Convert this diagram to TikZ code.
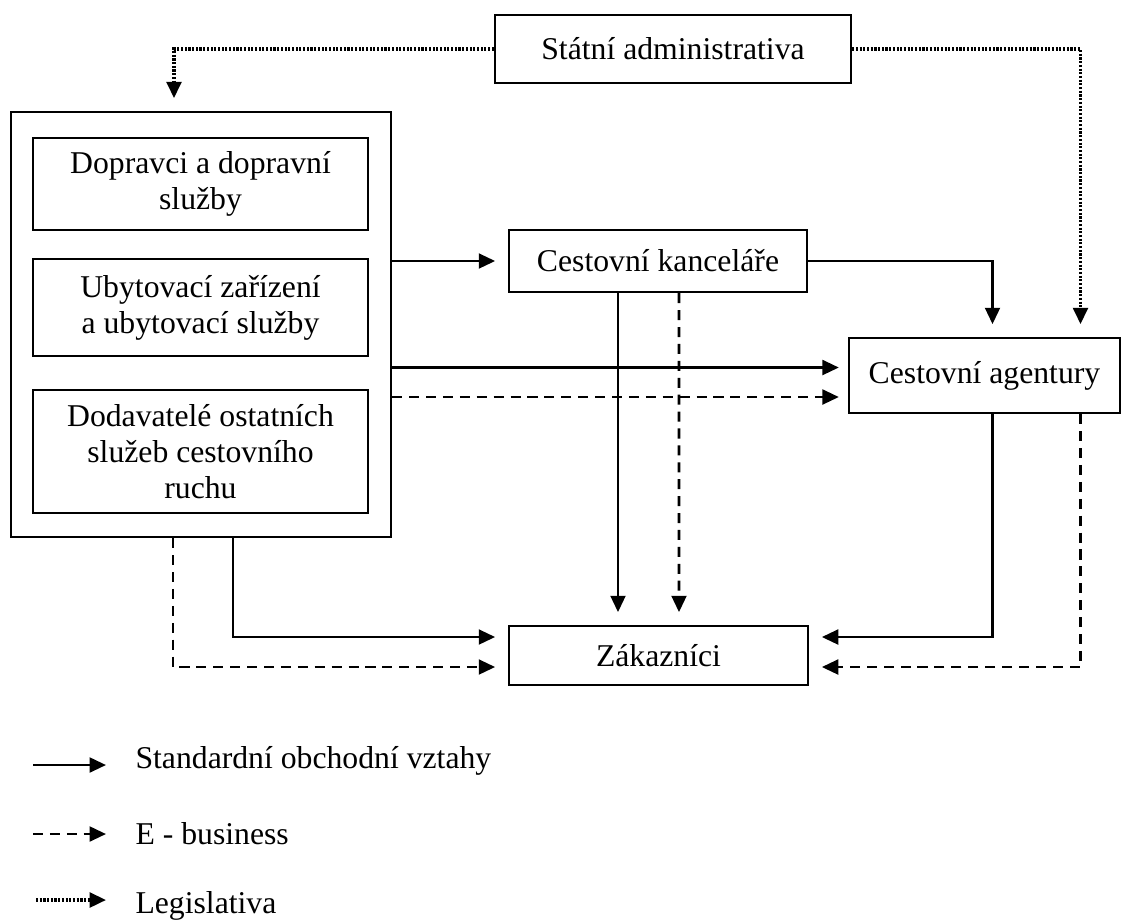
\documentclass[tikz,border=0pt]{standalone}
\usepackage{fontspec}
\setmainfont{Liberation Serif}
\usetikzlibrary{calc}
\usetikzlibrary{arrows.meta}
\newcommand{\pxu}{0.3785pt}
\tikzset{
    box/.style={draw, line width=0.9pt, align=center, inner sep=0pt, font=\fontsize{12}{13.6}\selectfont},
    std/.style={line width=1pt, -{Triangle[length=6.2pt,width=5.6pt]}},
    ebiz/.style={std, dash pattern=on 3.8pt off 2.6pt},
    legis/.style={std, line width=1.2pt, dash pattern=on 0.8pt off 0.6pt},
    tipgap/.style={shorten >=4.8pt},
    legtext/.style={anchor=west, inner sep=0pt, font=\fontsize{12}{13.6}\selectfont}
}

\begin{document}
\begin{tikzpicture}[x=\pxu, y=-\pxu]
            \useasboundingbox (0,0) rectangle (1137,923);

            % Boxes
            \node[box, minimum width=356*\pxu, minimum height=68*\pxu] (sa) at (673,49) {Státní administrativa};
            \node[box, minimum width=380*\pxu, minimum height=425*\pxu] (outer) at (201,324.5) {};
            \node[box, minimum width=335*\pxu, minimum height=92*\pxu] (d1) at (200.5,184) {Dopravci a dopravní\\služby};
            \node[box, minimum width=335*\pxu, minimum height=97*\pxu] (d2) at (200.5,307.5) {Ubytovací zařízení\\a ubytovací služby};
            \node[box, minimum width=335*\pxu, minimum height=123*\pxu] (d3) at (200.5,451.5) {Dodavatelé ostatních\\služeb cestovního\\ruchu};
            \node[box, minimum width=298*\pxu, minimum height=62*\pxu] (ck) at (658,261) {Cestovní kanceláře};
            \node[box, minimum width=271*\pxu, minimum height=75*\pxu] (ca) at (984.5,375.5) {Cestovní agentury};
            \node[box, minimum width=299*\pxu, minimum height=59*\pxu] (zak) at (658.5,655.5) {Zákazníci};

            % Helper points
            \coordinate (oT) at ($(outer.north)+(-27,0)$);
            \coordinate (caT) at ($(ca.north)+(8,0)$);
            \coordinate (caL) at ($(ca.north)+(96,0)$);
            \coordinate (caS) at ($(ca.west)+(0,-8)$);
            \coordinate (caE) at ($(ca.west)+(0,21.5)$);
            \coordinate (zS) at ($(zak.west)+(0,-18.5)$);
            \coordinate (zE) at ($(zak.west)+(0,11.5)$);
            \coordinate (zSr) at ($(zak.east)+(0,-18.5)$);
            \coordinate (zEr) at ($(zak.east)+(0,11.5)$);

            % Legislativa
            \draw[legis, tipgap] (sa.west) -| (oT);
            \draw[legis, tipgap] (sa.east) -| (caL);

            % Standardni vztahy
            \draw[std, tipgap] (outer.east |- ck.west) -- (ck.west);
            \draw[std, tipgap] (ck.east) -| (caT);
            \draw[std, shorten >=3.4pt] (outer.east |- caS) -- (caS);
            \draw[std, tipgap] ($(ck.south)+(-40,0)$) -- ($(zak.north)+(-40.5,0)$);
            \draw[std, tipgap] ($(outer.south)+(32,0)$) |- (zS);
            \draw[std, tipgap] ($(ca.south)+(8,0)$) |- (zSr);

            % E - business
            \draw[ebiz, shorten >=3.4pt] (outer.east |- caE) -- (caE);
            \draw[ebiz, tipgap] ($(ck.south)+(21,0)$) -- ($(zak.north)+(20.5,0)$);
            \draw[ebiz, tipgap] ($(outer.south)+(-28,0)$) |- (zE);
            \draw[ebiz, tipgap] ($(ca.south)+(96,0)$) |- (zEr);

            % Legend
            \node[legtext] (leg1) at (135,761) {Standardní obchodní vztahy};
            \node[legtext] (leg2) at (135,834) {E - business};
            \node[legtext] (leg3) at (135,906) {Legislativa};
            \coordinate (k1) at (33,765);
            \coordinate (k2) at (33,834);
            \coordinate (k3) at (36,900);
            \draw[std] (k1) -- (k1 -| 106,0);
            \draw[ebiz] (k2) -- (k2 -| 106,0);
            \draw[legis] (k3) -- (k3 -| 106,0);

        \end{tikzpicture}
\end{document}
